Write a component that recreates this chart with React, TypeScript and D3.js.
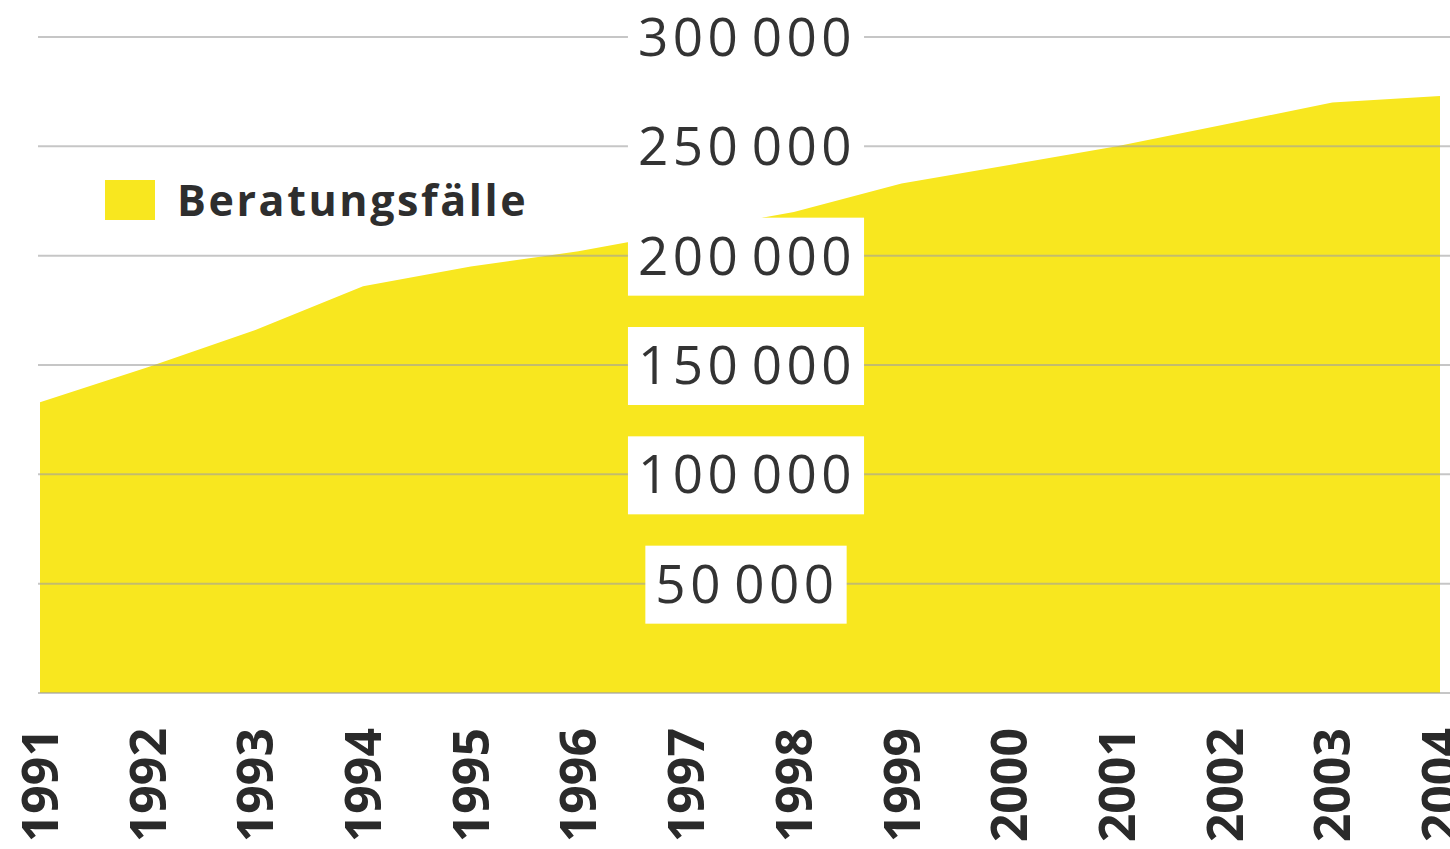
import { useEffect, useRef } from "react";
import * as d3 from "d3";

// Beratungsfälle 1991–2004, yellow area chart with centred value labels
const years = [1991, 1992, 1993, 1994, 1995, 1996, 1997, 1998, 1999, 2000, 2001, 2002, 2003, 2004];
const cases = [133000, 149000, 166000, 186000, 195000, 202000, 211000, 220000, 233000, 241500, 250000, 260000, 270000, 273000];
const yTicks = [0, 50000, 100000, 150000, 200000, 250000, 300000];
const seriesName = "Beratungsfälle";

export default function App() {
    const svgRef = useRef<SVGSVGElement>(null);
    const width = 1450;
    const height = 849;

    useEffect(() => {
        document.body.style.margin = "0";
        const svg = d3.select(svgRef.current);
        svg.selectAll("*").remove();

        const x = d3.scaleLinear().domain([1991, 2004]).range([40, 1440]);
        const y = d3.scaleLinear().domain([0, 300000]).range([693, 37]);

        const area = d3
            .area<number>()
            .x((_, i) => x(years[i]))
            .y0(y(0))
            .y1(d => y(d));

        svg.append("path")
            .datum(cases)
            .attr("d", area)
            .attr("fill", "#f8e71f");

        // gridlines on top of the area
        svg.append("g")
            .selectAll("line")
            .data(yTicks)
            .join("line")
            .attr("x1", 38)
            .attr("x2", width)
            .attr("y1", d => y(d))
            .attr("y2", d => y(d))
            .attr("stroke", "#a0a0a0")
            .attr("stroke-opacity", 0.6)
            .attr("stroke-width", 2);

        // value labels with white boxes
        const fmt = (v: number) => d3.format(",")(v).replace(/,/g, " ");
        const labels = svg.append("g");
        yTicks.filter(d => d > 0).forEach(t => {
            const g = labels.append("g");
            const rect = g.append("rect").attr("fill", "#ffffff");
            const text = g.append("text")
                .attr("x", 747)
                .attr("y", y(t))
                .attr("dy", "0.36em")
                .attr("text-anchor", "middle")
                .attr("font-family", "'Open Sans', sans-serif")
                .attr("font-size", 53)
                .attr("letter-spacing", 4.5)
                .attr("word-spacing", -9)
                .attr("fill", "#333333")
                .text(fmt(t));
            const bb = (text.node() as SVGTextElement).getBBox();
            rect.attr("x", bb.x - 10)
                .attr("y", y(t) - 38)
                .attr("width", bb.width + 18)
                .attr("height", 78);
        });

        // year labels, rotated
        svg.append("g")
            .selectAll("text")
            .data(years)
            .join("text")
            .attr("transform", d => `translate(${x(d)},728) rotate(-90)`)
            .attr("dy", "0.36em")
            .attr("text-anchor", "end")
            .attr("font-family", "'Open Sans', sans-serif")
            .attr("font-weight", 700)
            .attr("font-size", 50)
            .attr("fill", "#2a2a2a")
            .text(d => d);

        // legend
        const legend = svg.append("g");
        legend.append("rect")
            .attr("x", 105)
            .attr("y", 180)
            .attr("width", 50)
            .attr("height", 40)
            .attr("fill", "#f8e71f");
        legend.append("text")
            .attr("x", 177)
            .attr("y", 216)
            .attr("font-family", "'Open Sans', sans-serif")
            .attr("font-weight", "bold")
            .attr("font-size", 43)
            .attr("letter-spacing", 2.6)
            .attr("fill", "#2e2e2e")
            .text(seriesName);
    }, []);

    return <svg ref={svgRef} width={width} height={height} style={{ display: "block" }} />;
}
